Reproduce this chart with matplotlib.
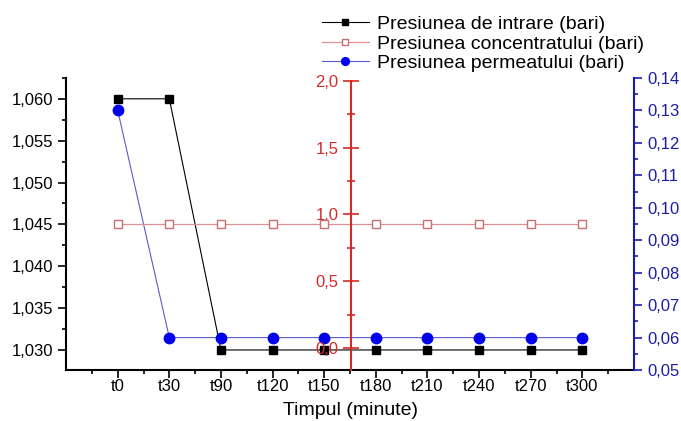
import matplotlib.pyplot as plt
from matplotlib.ticker import FuncFormatter, MultipleLocator, FixedLocator

plt.rcParams['font.family'] = ['Liberation Sans', 'DejaVu Sans']

labels = ['t0', 't30', 't90', 't120', 't150', 't180', 't210', 't240', 't270', 't300']
p_intrare = [1.060, 1.060, 1.030, 1.030, 1.030, 1.030, 1.030, 1.030, 1.030, 1.030]
p_concentrat = [0.93, 0.93, 0.93, 0.93, 0.93, 0.93, 0.93, 0.93, 0.93, 0.93]
p_permeat = [0.13, 0.06, 0.06, 0.06, 0.06, 0.06, 0.06, 0.06, 0.06, 0.06]

red = '#d42a2a'
blue = '#1c1ca8'
x = list(range(len(labels)))


def comma(nd):
    return FuncFormatter(lambda v, p: f'{v:.{nd}f}'.replace('.', ','))


fig = plt.figure(figsize=(6.81, 4.21), dpi=100)
ax = fig.add_axes([0.097, 0.121, 0.834, 0.694])
ax_r = ax.twinx()
ax_m = ax.twinx()

# left axis - inlet pressure
l1, = ax.plot(x, p_intrare, color='black', lw=0.8, marker='s', ms=6,
              mfc='black', mec='black', zorder=3)
ax.set_xlim(-1, 10)
ax.set_ylim(1.0276, 1.0625)
ax.yaxis.set_major_locator(MultipleLocator(0.005))
ax.yaxis.set_minor_locator(MultipleLocator(0.0025))
ax.yaxis.set_major_formatter(comma(3))
ax.set_xticks(x)
ax.set_xticklabels(labels)
ax.xaxis.set_minor_locator(FixedLocator([i + 0.5 for i in range(-1, 10)]))
ax.tick_params(axis='both', which='major', labelsize=12, length=6, width=1.2)
ax.tick_params(axis='x', which='major', pad=0.5)
ax.tick_params(axis='both', which='minor', length=3, width=1.2)
ax.set_xlabel('Timpul (minute)', fontsize=14, labelpad=6)
for s in ['top', 'right']:
    ax.spines[s].set_visible(False)
for s in ['left', 'bottom']:
    ax.spines[s].set_linewidth(1.5)

# right axis - permeate pressure
l3, = ax_r.plot(x, p_permeat, color='#5a5ad0', lw=0.8, marker='o', ms=7.5,
                mfc='#0000ee', mec='#0000ee', zorder=3)
ax_r.set_ylim(0.05, 0.14)
ax_r.yaxis.set_major_locator(MultipleLocator(0.01))
ax_r.yaxis.set_minor_locator(MultipleLocator(0.005))
ax_r.yaxis.set_major_formatter(comma(2))
ax_r.tick_params(axis='y', which='major', labelsize=12, length=6, width=1.2,
                 colors=blue)
ax_r.tick_params(axis='y', which='minor', length=3, width=1.2, colors=blue)
for s in ['top', 'left', 'bottom']:
    ax_r.spines[s].set_visible(False)
ax_r.spines['right'].set_color(blue)
ax_r.spines['right'].set_linewidth(1.5)

# middle axis - concentrate pressure
l2, = ax_m.plot(x, p_concentrat, color='#e09090', lw=0.9, marker='s', ms=6,
                mfc='white', mec='#c87070', zorder=2)
ax_m.set_ylim(-0.165, 2.022)
ax_m.yaxis.tick_left()
ax_m.yaxis.set_label_position('left')
for s in ['top', 'right', 'bottom']:
    ax_m.spines[s].set_visible(False)
ax_m.spines['left'].set_visible(True)
ax_m.spines['left'].set_position(('data', 4.52))
ax_m.spines['left'].set_color(red)
ax_m.spines['left'].set_linewidth(1.5)
ax_m.spines['left'].set_bounds(-0.165, 2.0)
ax_m.yaxis.set_major_locator(MultipleLocator(0.5))
ax_m.yaxis.set_minor_locator(MultipleLocator(0.25))
ax_m.yaxis.set_major_formatter(comma(1))
ax_m.tick_params(axis='y', which='major', labelsize=12, length=12, width=1.2,
                 colors=red, direction='inout', pad=3)
ax_m.tick_params(axis='y', which='minor', length=6, width=1.2, colors=red,
                 direction='inout')

fig.legend([l1, l2, l3],
           ['Presiunea de intrare (bari)', 'Presiunea concentratului (bari)',
            'Presiunea permeatului (bari)'],
           loc='upper left', bbox_to_anchor=(0.45, 1.0), frameon=False,
           fontsize=14, handlelength=2.4, handletextpad=0.45, labelspacing=0.1,
           markerscale=0.75, borderaxespad=0.4)

fig.savefig('out.png', dpi=100)
